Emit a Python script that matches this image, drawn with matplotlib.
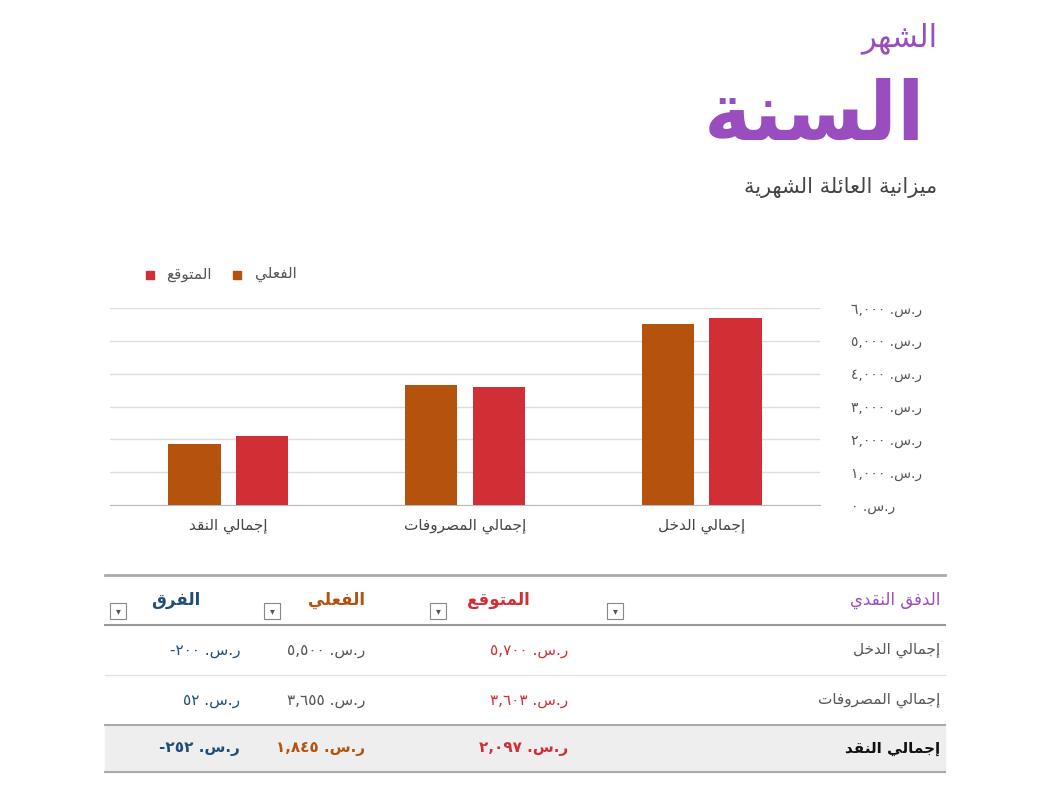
import matplotlib
matplotlib.use("Agg")
import matplotlib.pyplot as plt
from matplotlib.patches import Rectangle

# ---- data ----
categories = ["إجمالي النقد", "إجمالي المصروفات", "إجمالي الدخل"]
actual = [1845, 3655, 5500]
expected = [2097, 3603, 5700]
row_labels = ["إجمالي الدخل", "إجمالي المصروفات", "إجمالي النقد"]
row_expected = [5700, 3603, 2097]
row_actual = [5500, 3655, 1845]
row_diff = [-200, 52, -252]
y_ticks = [0, 1000, 2000, 3000, 4000, 5000, 6000]

C_ACT = "#B4520E"
C_EXP = "#D22E36"
C_PURPLE = "#9A4DBE"
C_BLUE = "#1F4E79"

# ---- minimal arabic shaping (no external libs) ----
FORMS = {
    "ء": (0xFE80,), "آ": (0xFE81, 0xFE82), "أ": (0xFE83, 0xFE84), "ؤ": (0xFE85, 0xFE86),
    "إ": (0xFE87, 0xFE88), "ئ": (0xFE89, 0xFE8A, 0xFE8B, 0xFE8C), "ا": (0xFE8D, 0xFE8E),
    "ب": (0xFE8F, 0xFE90, 0xFE91, 0xFE92), "ة": (0xFE93, 0xFE94),
    "ت": (0xFE95, 0xFE96, 0xFE97, 0xFE98), "ث": (0xFE99, 0xFE9A, 0xFE9B, 0xFE9C),
    "ج": (0xFE9D, 0xFE9E, 0xFE9F, 0xFEA0), "ح": (0xFEA1, 0xFEA2, 0xFEA3, 0xFEA4),
    "خ": (0xFEA5, 0xFEA6, 0xFEA7, 0xFEA8), "د": (0xFEA9, 0xFEAA), "ذ": (0xFEAB, 0xFEAC),
    "ر": (0xFEAD, 0xFEAE), "ز": (0xFEAF, 0xFEB0),
    "س": (0xFEB1, 0xFEB2, 0xFEB3, 0xFEB4), "ش": (0xFEB5, 0xFEB6, 0xFEB7, 0xFEB8),
    "ص": (0xFEB9, 0xFEBA, 0xFEBB, 0xFEBC), "ض": (0xFEBD, 0xFEBE, 0xFEBF, 0xFEC0),
    "ط": (0xFEC1, 0xFEC2, 0xFEC3, 0xFEC4), "ظ": (0xFEC5, 0xFEC6, 0xFEC7, 0xFEC8),
    "ع": (0xFEC9, 0xFECA, 0xFECB, 0xFECC), "غ": (0xFECD, 0xFECE, 0xFECF, 0xFED0),
    "ف": (0xFED1, 0xFED2, 0xFED3, 0xFED4), "ق": (0xFED5, 0xFED6, 0xFED7, 0xFED8),
    "ك": (0xFED9, 0xFEDA, 0xFEDB, 0xFEDC), "ل": (0xFEDD, 0xFEDE, 0xFEDF, 0xFEE0),
    "م": (0xFEE1, 0xFEE2, 0xFEE3, 0xFEE4), "ن": (0xFEE5, 0xFEE6, 0xFEE7, 0xFEE8),
    "ه": (0xFEE9, 0xFEEA, 0xFEEB, 0xFEEC), "و": (0xFEED, 0xFEEE), "ى": (0xFEEF, 0xFEF0),
    "ي": (0xFEF1, 0xFEF2, 0xFEF3, 0xFEF4),
}


def ar(text):
    # shape letters into presentation forms, then reverse for LTR drawing
    out = []
    n = len(text)
    for i, ch in enumerate(text):
        f = FORMS.get(ch)
        if f is None:
            out.append(ch)
            continue
        prev = text[i - 1] if i > 0 else ""
        nxt = text[i + 1] if i < n - 1 else ""
        join_prev = prev in FORMS and len(FORMS[prev]) == 4
        join_next = len(f) == 4 and nxt in FORMS
        if join_prev and join_next:
            out.append(chr(f[3]))
        elif join_next:
            out.append(chr(f[2]))
        elif join_prev:
            out.append(chr(f[1]))
        else:
            out.append(chr(f[0]))
    return "".join(out)[::-1]


DIG = "٠١٢٣٤٥٦٧٨٩"


def adig(v):
    s = f"{abs(v):,}" if abs(v) >= 1000 else str(abs(v))
    return "".join(DIG[int(c)] if c.isdigit() else c for c in s)


RS = ar("ر.س.")


def money(v):
    return ("-" if v < 0 else "") + adig(v) + " " + RS


plt.rcParams["font.family"] = "DejaVu Sans"
fig = plt.figure(figsize=(10.42, 8), dpi=100)
W, H = 1042, 800


def ft(x, y, s, **kw):
    fig.text(x / W, 1 - y / H, s, **kw)


# ---- titles ----
ft(937, 38, ar("الشهر"), ha="right", va="center", fontsize=22, color=C_PURPLE)
ft(925, 118, ar("السنة"), ha="right", va="center", fontsize=58, color=C_PURPLE, fontweight="bold")
ft(937, 188, ar("ميزانية العائلة الشهرية"), ha="right", va="center", fontsize=15,
   color="#444444")

# ---- chart ----
ax = fig.add_axes([110 / W, 1 - 505 / H, 710 / W, 197 / H])
xs = list(range(len(categories)))
bw = 0.22
ax.bar([x - 0.143 for x in xs], actual, bw, color=C_ACT, zorder=3)
ax.bar([x + 0.143 for x in xs], expected, bw, color=C_EXP, zorder=3)
ax.set_xlim(-0.5, 2.5)
ax.set_ylim(0, 6000)
ax.set_yticks(y_ticks)
ax.yaxis.tick_right()
ax.set_yticklabels([money(v) for v in y_ticks], fontsize=10, color="#555555")
ax.tick_params(axis="y", length=0, pad=22)
ax.set_xticks(xs)
ax.set_xticklabels([ar(c) for c in categories], fontsize=11, color="#444444")
ax.tick_params(axis="x", length=0, pad=10)
ax.grid(axis="y", color="#DDDDDD", lw=1, zorder=0)
for s in ["top", "left", "right"]:
    ax.spines[s].set_visible(False)
ax.spines["bottom"].set_color("#BBBBBB")

# legend (manual, RTL)
fig.patches.append(Rectangle((233 / W, 1 - 279 / H), 8 / W, 8 / H, color=C_ACT, transform=fig.transFigure))
ft(297, 274, ar("الفعلي"), ha="right", va="center", fontsize=11, color="#555555")
fig.patches.append(Rectangle((146 / W, 1 - 279 / H), 8 / W, 8 / H, color=C_EXP, transform=fig.transFigure))
ft(212, 274, ar("المتوقع"), ha="right", va="center", fontsize=11, color="#555555")

# ---- table ----
L, R = 105 / W, 945 / W


def hline(y, color="#BBBBBB", lw=1.0):
    fig.add_artist(plt.Line2D([L, R], [1 - y / H, 1 - y / H], color=color, lw=lw))


fig.patches.append(Rectangle((L, 1 - 772 / H), R - L, 47 / H, color="#EEEEEE", transform=fig.transFigure, zorder=0))
hline(575, "#AAAAAA", 2)
hline(625, "#999999", 1.5)
hline(675, "#E2E2E2")
hline(725, "#AAAAAA", 1.5)
hline(772, "#AAAAAA", 1.5)

hy = 600
ft(940, hy, ar("الدفق النقدي"), ha="right", va="center", fontsize=12, color=C_PURPLE)
ft(530, hy, ar("المتوقع"), ha="right", va="center", fontsize=12, color=C_EXP, fontweight="bold")
ft(365, hy, ar("الفعلي"), ha="right", va="center", fontsize=12, color=C_ACT, fontweight="bold")
ft(200, hy, ar("الفرق"), ha="right", va="center", fontsize=12, color=C_BLUE, fontweight="bold")
for bx in [615, 438, 272, 118]:
    fig.patches.append(Rectangle(((bx - 8) / W, 1 - (hy + 19) / H), 16 / W, 16 / H, fill=False,
                                 ec="#888888", lw=0.8, transform=fig.transFigure))
    ft(bx, hy + 11, "▾", ha="center", va="center", fontsize=7, color="#555555")

row_y = [650, 700, 748]
for i, y in enumerate(row_y):
    bold = i == 2
    w = "bold" if bold else "normal"
    ft(940, y, ar(row_labels[i]), ha="right", va="center", fontsize=11,
       color="#111111" if bold else "#555555", fontweight=w)
    ft(568, y, money(row_expected[i]), ha="right", va="center", fontsize=11, color=C_EXP, fontweight=w)
    ft(365, y, money(row_actual[i]), ha="right", va="center", fontsize=11,
       color=C_ACT if bold else "#555555", fontweight=w)
    ft(240, y, money(row_diff[i]), ha="right", va="center", fontsize=11, color=C_BLUE, fontweight=w)

fig.savefig("out.png", dpi=100, facecolor="white")
